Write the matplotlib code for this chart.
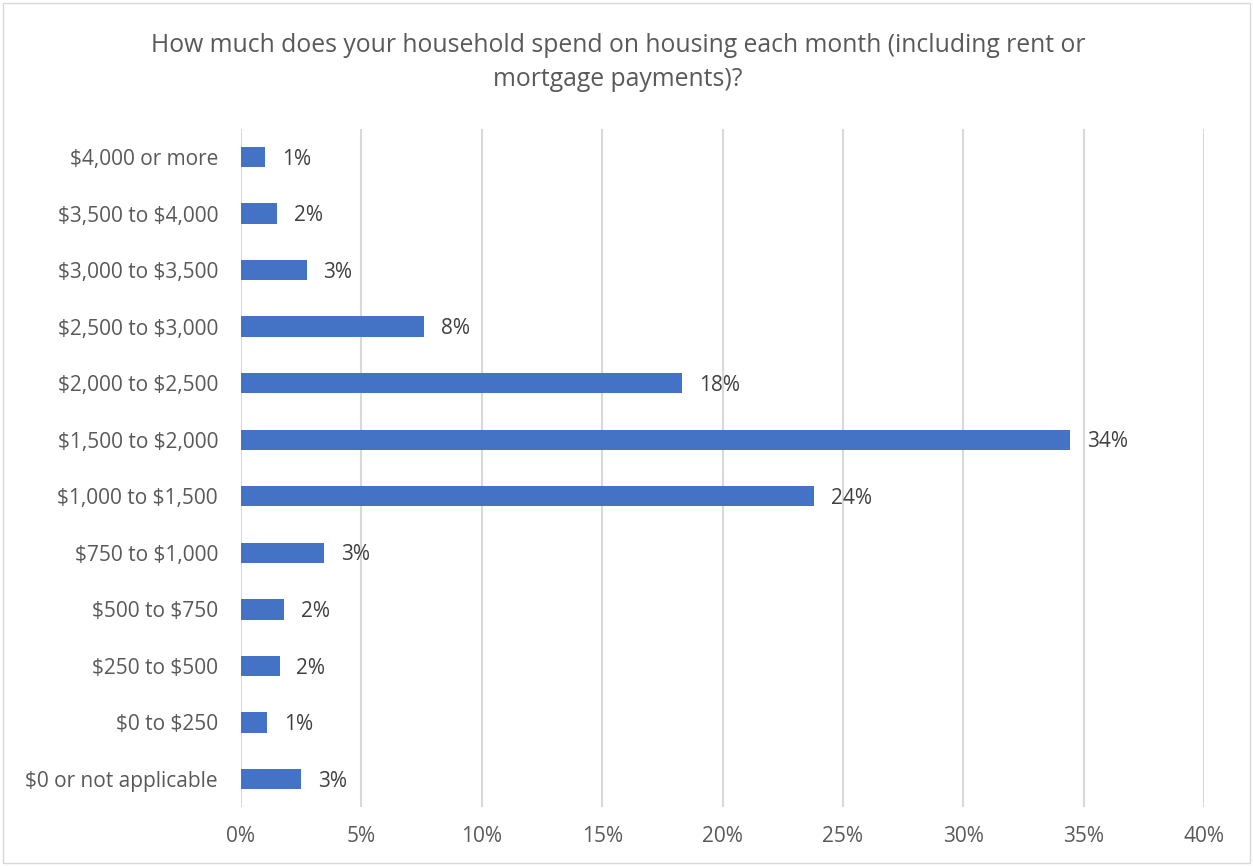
import numpy as np
import matplotlib.pyplot as plt
from matplotlib.patches import Rectangle

# Datos (de abajo hacia arriba)
categorias = ['$0 or not applicable', '$0 to $250', '$250 to $500',
              '$500 to $750', '$750 to $1,000', '$1,000 to $1,500',
              '$1,500 to $2,000', '$2,000 to $2,500', '$2,500 to $3,000',
              '$3,000 to $3,500', '$3,500 to $4,000', '$4,000 or more']
valores = [2.51, 1.10, 1.61, 1.79, 3.46, 23.82, 34.43, 18.33, 7.61, 2.73, 1.49, 1.00]
etiquetas = ['3%', '1%', '2%', '2%', '3%', '24%', '34%', '18%', '8%', '3%', '2%', '1%']
xticks = np.arange(0, 41, 5)

plt.rcParams['font.family'] = ['Open Sans', 'DejaVu Sans']
plt.rcParams['text.parse_math'] = False

fig = plt.figure(figsize=(12.53, 8.66), dpi=100)
ax = fig.add_axes([241 / 1253, 1 - 807.3 / 866, 963 / 1253, 678.6 / 866])

y = np.arange(len(categorias))
ax.barh(y, valores, height=0.36, color='#4472C4', zorder=3)
for yi, v, t in zip(y, valores, etiquetas):
    ax.annotate(t, (v, yi), xytext=(12, -1.5), textcoords='offset points',
                va='center', ha='left', fontsize=15, color='#404040')

ax.set_xlim(0, 40)
ax.set_ylim(-0.5, len(categorias) - 0.5)
ax.set_xticks(xticks)
ax.set_xticklabels([f'{x}%' for x in xticks], fontsize=15, color='#595959')
ax.set_yticks(y)
ax.set_yticklabels(categorias, fontsize=15, color='#595959')
ax.tick_params(axis='y', length=0, pad=16.5)
ax.tick_params(axis='x', length=0, pad=13.5)
ax.grid(axis='x', color='#d9d9d9', linewidth=1.5, zorder=0)
for s in ax.spines.values():
    s.set_visible(False)

xt = 618 / 1253
fig.text(xt, 1 - 46 / 866, 'How much does your household spend on housing each month (including rent or',
         ha='center', va='center', fontsize=17.8, color='#595959')
fig.text(xt, 1 - 79 / 866, 'mortgage payments)?',
         ha='center', va='center', fontsize=17.8, color='#595959')

# Borde del área del gráfico
fig.patches.append(Rectangle((3 / 1253, 3 / 866), 1 - 6 / 1253, 1 - 6 / 866,
                             transform=fig.transFigure, fill=False,
                             edgecolor='#d9d9d9', linewidth=1))

fig.savefig('out.png', dpi=100)
